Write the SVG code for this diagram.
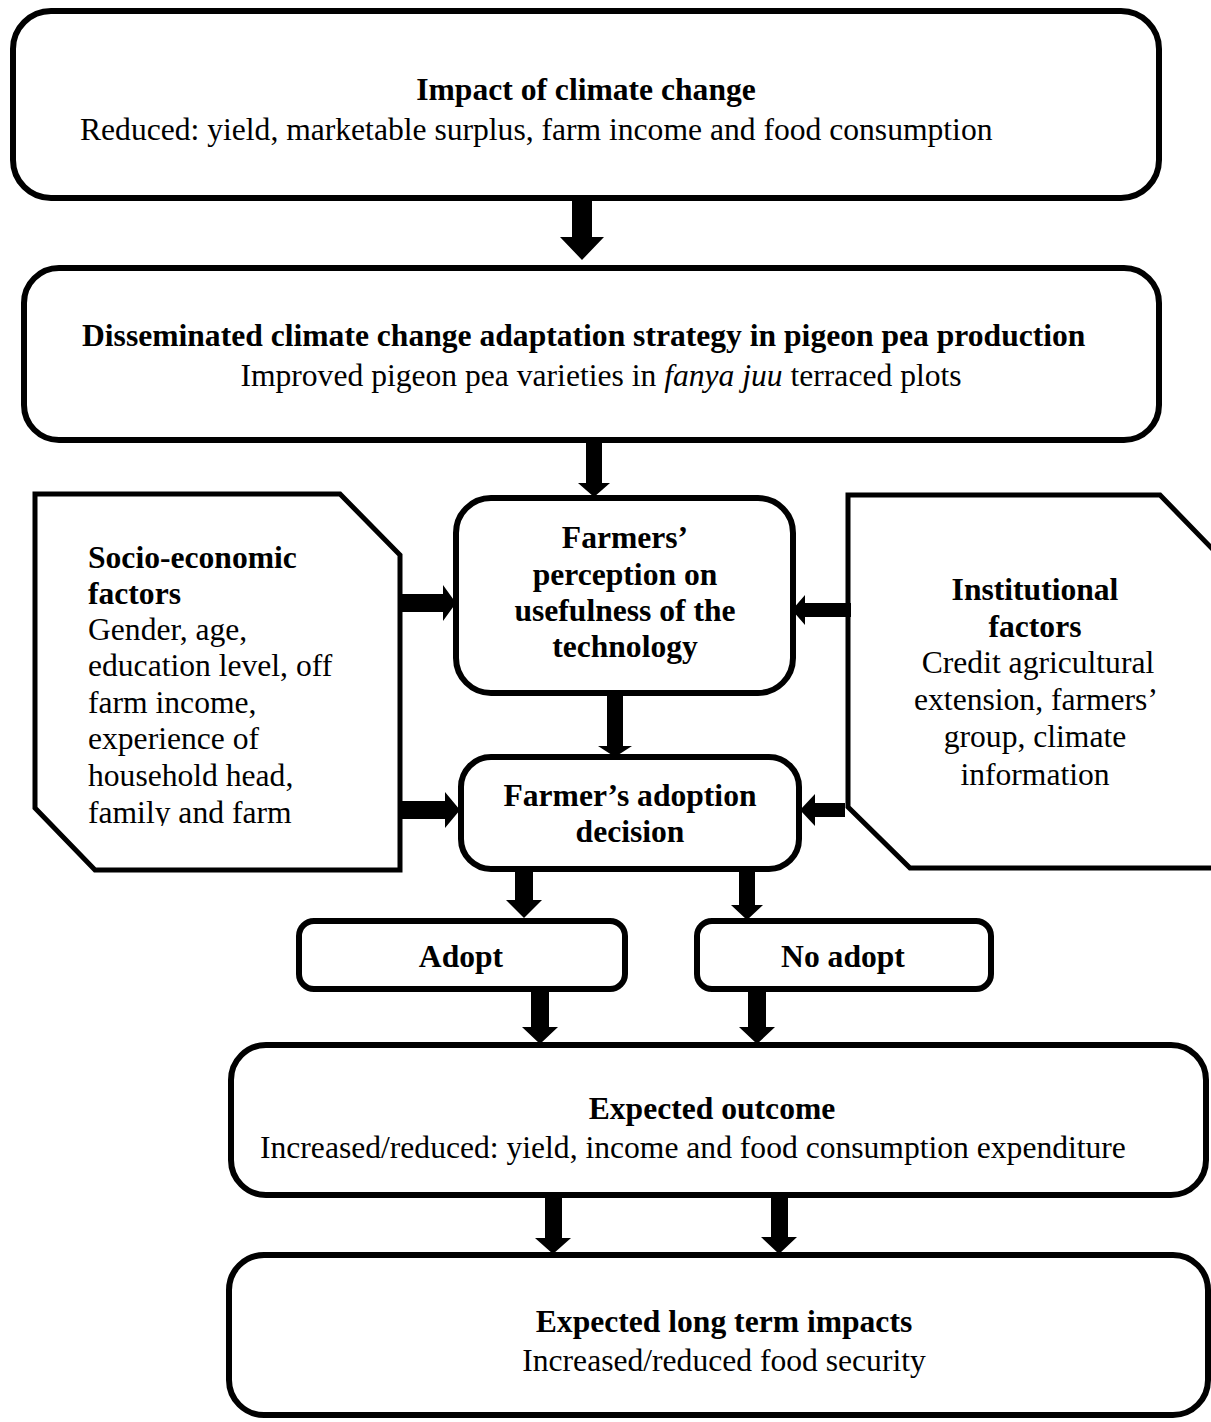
<svg xmlns="http://www.w3.org/2000/svg" width="1211" height="1422" viewBox="0 0 1211 1422">
<style>
.box{fill:#fff;stroke:#000;stroke-width:6}
.pent{fill:#fff;stroke:#000;stroke-width:5;stroke-linejoin:miter}
.arr{fill:#000;stroke:none}
text{font-family:"Liberation Serif","Times New Roman",serif;font-size:31.6px;fill:#000}
.b{font-weight:bold}
.c{text-anchor:middle}
</style>
<defs>
<clipPath id="clipL"><rect x="40" y="500" width="355" height="326"/></clipPath>
</defs>
<rect width="1211" height="1422" fill="#fff"/>
<g id="n1">
<rect class="box" x="13" y="11" width="1146" height="187" rx="38"/>
<text class="b c" x="586" y="100">Impact of climate change</text>
<text x="80" y="140">Reduced: yield, marketable surplus, farm income and food consumption</text>
</g>
<g id="n2">
<rect class="box" x="24" y="268" width="1135" height="172" rx="35"/>
<text class="b" x="82" y="346">Disseminated climate change adaptation strategy in pigeon pea production</text>
<text class="c" x="601" y="386">Improved pigeon pea varieties in <tspan font-style="italic">fanya juu</tspan> terraced plots</text>
</g>
<g id="n3">
<polygon class="pent" points="35,494 340,494 400,555 400,870 95,870 35,808"/>
<g clip-path="url(#clipL)">
<text class="b" x="88" y="568">Socio-economic</text>
<text class="b" x="88" y="604">factors</text>
<text x="88" y="640">Gender, age,</text>
<text x="88" y="676">education level, off</text>
<text x="88" y="713">farm income,</text>
<text x="88" y="749">experience of</text>
<text x="88" y="786">household head,</text>
<text x="88" y="823">family and farm</text>
</g>
</g>
<g id="n4">
<polygon class="pent" points="848,495 1160,495 1228,565 1228,868 910,868 848,807"/>
<text class="b c" x="1035" y="600">Institutional</text>
<text class="b c" x="1035" y="637">factors</text>
<text class="c" x="1038" y="673">Credit agricultural</text>
<text class="c" x="1036" y="710">extension, farmers’</text>
<text class="c" x="1035" y="747">group, climate</text>
<text class="c" x="1035" y="785">information</text>
</g>
<g id="n5">
<rect class="box" x="456" y="498" width="337" height="195" rx="35"/>
<text class="b c" x="625" y="548">Farmers’</text>
<text class="b c" x="625" y="585">perception on</text>
<text class="b c" x="625" y="621">usefulness of the</text>
<text class="b c" x="625" y="657">technology</text>
</g>
<g id="n6">
<rect class="box" x="461" y="757" width="338" height="112" rx="30"/>
<text class="b c" x="630" y="806">Farmer’s adoption</text>
<text class="b c" x="630" y="842">decision</text>
</g>
<g id="n7">
<rect class="box" x="299" y="921" width="326" height="68" rx="15"/>
<text class="b c" x="461" y="967">Adopt</text>
</g>
<g id="n8">
<rect class="box" x="697" y="921" width="294" height="68" rx="15"/>
<text class="b c" x="843" y="967">No adopt</text>
</g>
<g id="n9">
<rect class="box" x="231" y="1045" width="975" height="150" rx="35"/>
<text class="b c" x="712" y="1119">Expected outcome</text>
<text x="260" y="1158">Increased/reduced: yield, income and food consumption expenditure</text>
</g>
<g id="n10">
<rect class="box" x="229" y="1255" width="979" height="160" rx="35"/>
<text class="b c" x="724" y="1332">Expected long term impacts</text>
<text class="c" x="724" y="1371">Increased/reduced food security</text>
</g>
<g id="connectors">
<polygon class="arr" points="572,198 592,198 592,237 604,237 582,260 560,237 572,237"/>
<polygon class="arr" points="586,443 602,443 602,483 610,483 594,497 578,483 586,483"/>
<polygon class="arr" points="607,696 623,696 623,746 632,746 615,757 598,746 607,746"/>
<polygon class="arr" points="515,872 533,872 533,900 542,900 524,918 506,900 515,900"/>
<polygon class="arr" points="739,872 755,872 755,905 763,905 747,920 731,905 739,905"/>
<polygon class="arr" points="531,992 549,992 549,1027 558,1027 540,1044 522,1027 531,1027"/>
<polygon class="arr" points="748,992 766,992 766,1027 775,1027 757,1044 739,1027 748,1027"/>
<polygon class="arr" points="545,1197 562,1197 562,1238 571,1238 553,1254 535,1238 545,1238"/>
<polygon class="arr" points="771,1195 788,1195 788,1237 797,1237 779,1254 761,1237 771,1237"/>
<polygon class="arr" points="402,594 443,594 443,585 456,603 443,621 443,612 402,612"/>
<polygon class="arr" points="402,801 445,801 445,792 460,810 445,828 445,819 402,819"/>
<polygon class="arr" points="851,603 805,603 805,595 792,610 805,625 805,617 851,617"/>
<polygon class="arr" points="845,803 815,803 815,794 800,810 815,826 815,817 845,817"/>
</g>
</svg>
